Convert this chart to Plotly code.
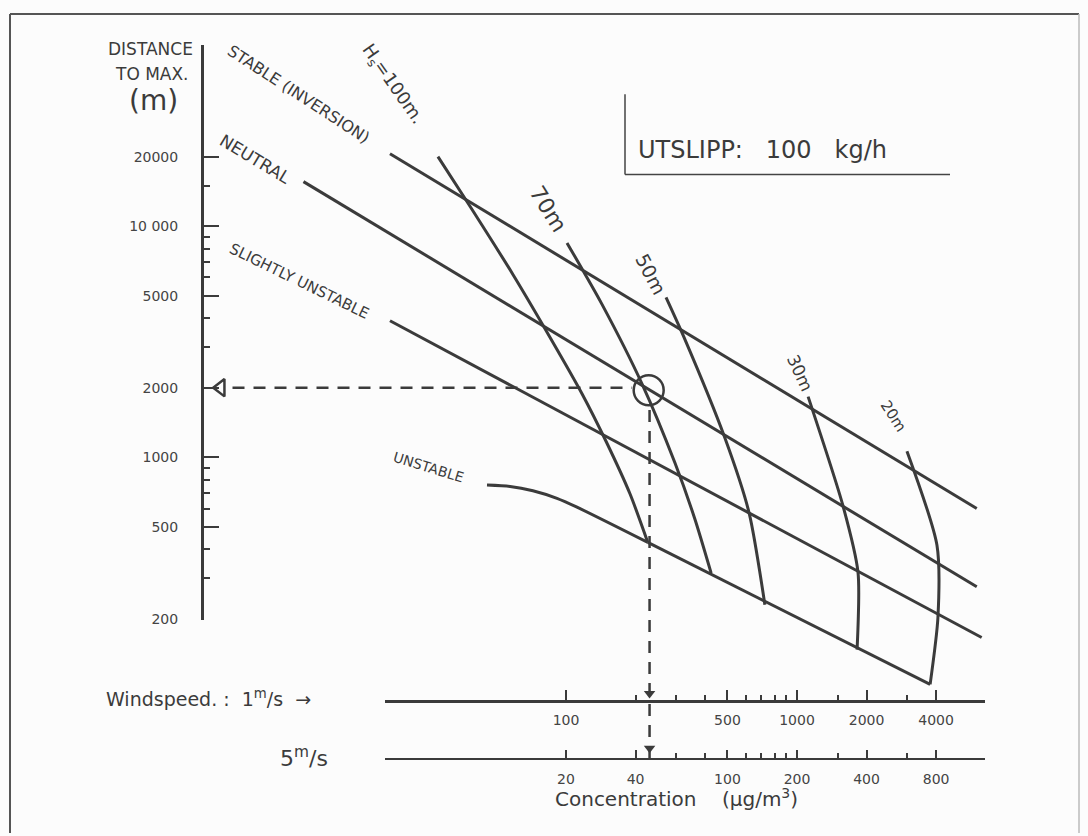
import math
import plotly.graph_objects as go

W, H = 1088, 836

# ---------------- data ----------------
# distance-to-max axis (m)
y_ticks = [200, 500, 1000, 2000, 5000, 10000, 20000]
y_ticktext = ["200", "500", "1000", "2000", "5000", "10 000", "20000"]
y_minor = [300, 400, 600, 700, 800, 900, 3000, 4000, 6000, 7000, 8000, 9000, 15000]

# concentration axes (ug/m3) for windspeed 1 m/s and 5 m/s
c1_ticks = [100, 500, 1000, 2000, 4000]
c1_minor = [200, 300, 400, 600, 700, 800, 900, 1500, 3000]
c5_ticks = [20, 40, 100, 200, 400, 800]
c5_minor = [60, 80, 120, 140, 160, 180, 300, 600]

# stability classes: x = concentration at 1 m/s, y = distance to max (m)
stable_x = [17.3, 6000]
stable_y = [20600, 600]
neutral_x = [7.3, 6000]
neutral_y = [15600, 275]
slunst_x = [17.3, 6300]
slunst_y = [3900, 166]
# unstable: curved start, then straight
unstable_curve_x = [45.5, 57.3, 71.9, 91.4, 111.6, 226]
unstable_curve_y = [759, 748, 716, 664, 608, 428]
unstable_line_x = [226, 3770]
unstable_line_y = [428, 104]

# stack heights Hs
h100_x = [27.9, 38.4, 59.0, 85.2, 117.3, 149.0, 189.2, 226]
h100_y = [20000, 12200, 6170, 3310, 1885, 1173, 695, 428]
h70_x = [101, 143.2, 213.3, 296.4, 361, 425]
h70_y = [8470, 4590, 2080, 944, 542, 315]
h50_x = [271, 324, 488, 620, 726]
h50_y = [4920, 3310, 1208, 576, 230]
h30_x = [1117, 1581, 1837, 1820]
h30_y = [1830, 617, 318, 147]
h20_x = [2992, 4036, 4074, 3770]
h20_y = [1063, 416, 202, 104]

# worked example (dashed reading lines)
ex_circle_x = [228]
ex_circle_y = [1950]
ex_h_x = [3.6, 193]
ex_h_y = [2000, 2000]
ex_v_x = [230, 230]
ex_v_y = [1600, 50]
ex_arrow_y_x = [3.2]
ex_arrow_y_y = [2000]
ex_arrow_x_x = [230, 230]
ex_arrow_x_y = [95, 55]

# ---------------- pixel geometry helpers (layout only) ----------------
X100_PX, XDEC = 566, 231      # pixel of 100 on 1 m/s scale, px per decade
Y20K_PX, YDEC = 158, 233      # pixel of 20000 m, px per decade


def lx(px):
    return 2 + (px - X100_PX) / XDEC


def ly(py):
    return math.log10(20000) - (py - Y20K_PX) / YDEC


def fx(px):
    return px / W


def fy(py):
    return 1 - py / H


INK = "#3b3b3b"
FONT = "DejaVu Sans"

fig = go.Figure()


def line(x, y, spline=False, width=3):
    fig.add_trace(go.Scatter(
        x=x, y=y, mode="lines",
        line=dict(color=INK, width=width, shape="spline" if spline else "linear", smoothing=0.7),
        hoverinfo="skip", showlegend=False))


line(stable_x, stable_y)
line(neutral_x, neutral_y)
line(slunst_x, slunst_y)
line(unstable_curve_x, unstable_curve_y, spline=True)
line(unstable_line_x, unstable_line_y)
line(h100_x, h100_y, spline=True)
line(h70_x, h70_y, spline=True)
line(h50_x, h50_y, spline=True)
line(h30_x, h30_y, spline=True)
line(h20_x, h20_y, spline=True)

# dashed reading lines
for gx, gy in [(ex_h_x, ex_h_y), (ex_v_x, ex_v_y)]:
    fig.add_trace(go.Scatter(x=gx, y=gy, mode="lines",
                             line=dict(color=INK, width=2.5, dash="12px,9px"),
                             hoverinfo="skip", showlegend=False))
fig.add_trace(go.Scatter(x=ex_circle_x, y=ex_circle_y, mode="markers",
                         marker=dict(symbol="circle-open", size=30, color=INK, line=dict(width=2.5)),
                         hoverinfo="skip", showlegend=False))
fig.add_trace(go.Scatter(x=ex_arrow_y_x, y=ex_arrow_y_y, mode="markers",
                         marker=dict(symbol="triangle-left-open", size=15, color=INK, line=dict(width=2.5)),
                         hoverinfo="skip", showlegend=False))
fig.add_trace(go.Scatter(x=ex_arrow_x_x, y=ex_arrow_x_y, mode="markers",
                         marker=dict(symbol="triangle-down", size=10, color=INK),
                         hoverinfo="skip", showlegend=False))

# dummy traces so the extra axes are drawn
fig.add_trace(go.Scatter(x=[None], y=[None], xaxis="x2", yaxis="y", showlegend=False, hoverinfo="skip"))
fig.add_trace(go.Scatter(x=[None], y=[None], xaxis="x3", yaxis="y", showlegend=False, hoverinfo="skip"))
fig.add_trace(go.Scatter(x=[None], y=[None], xaxis="x", yaxis="y2", showlegend=False, hoverinfo="skip"))

axis_common = dict(type="log", showgrid=False, zeroline=False, showline=True,
                   linecolor=INK, linewidth=2.5, ticks="inside", tickcolor=INK,
                   tickwidth=2, fixedrange=True)

PX_L, PX_R, PY_T, PY_B = 150, 1060, 20, 800
fig.update_layout(
    width=W, height=H, margin=dict(l=0, r=0, t=0, b=0),
    paper_bgcolor="#fcfcfc", plot_bgcolor="rgba(0,0,0,0)",
    showlegend=False,
    xaxis=dict(type="log", domain=[fx(PX_L), fx(PX_R)], range=[lx(PX_L), lx(PX_R)],
               visible=False, fixedrange=True),
    yaxis=dict(type="log", domain=[fy(PY_B), fy(PY_T)], range=[ly(PY_B), ly(PY_T)],
               visible=False, fixedrange=True),
    xaxis2=dict(axis_common, domain=[fx(385), fx(985)], range=[lx(385), lx(985)],
                anchor="free", position=fy(707),
                tickvals=c1_ticks, ticktext=[str(v) for v in c1_ticks], ticklen=10,
                ticklabelstandoff=6, tickfont=dict(family=FONT, size=14, color="#444"),
                minor=dict(tickvals=c1_minor, ticks="inside", ticklen=5, tickwidth=2, tickcolor=INK)),
    xaxis3=dict(axis_common, domain=[fx(385), fx(985)],
                range=[lx(385) - math.log10(5), lx(985) - math.log10(5)],
                anchor="free", position=fy(765),
                tickvals=c5_ticks, ticktext=[str(v) for v in c5_ticks], ticklen=8,
                ticklabelstandoff=7, tickfont=dict(family=FONT, size=14, color="#444"),
                minor=dict(tickvals=c5_minor, ticks="inside", ticklen=5, tickwidth=2, tickcolor=INK)),
    yaxis2=dict(axis_common, domain=[fy(625), fy(45)], range=[ly(625), ly(45)],
                anchor="free", position=fx(202), side="left",
                tickvals=y_ticks, ticktext=y_ticktext, ticklen=15, linewidth=3,
                ticklabelstandoff=20, tickfont=dict(family=FONT, size=14, color="#444"),
                minor=dict(tickvals=y_minor, ticks="inside", ticklen=6, tickwidth=2, tickcolor=INK)),
)

ann = []


def text(t, px, py, size, angle=0, xanchor="center", family=FONT, color=INK):
    ann.append(dict(text=t, x=fx(px), y=fy(py), xref="paper", yref="paper",
                    showarrow=False, textangle=angle, xanchor=xanchor, yanchor="middle",
                    font=dict(family=family, size=size, color=color)))


text("DISTANCE", 150, 49, 17)
text("TO MAX.", 152, 75, 17)
text("(m)", 153, 101, 28)

text("STABLE (INVERSION)", 299, 95, 16, angle=33)
text("NEUTRAL", 255, 160, 17, angle=31)
text("SLIGHTLY UNSTABLE", 299, 283, 15, angle=26)
text("UNSTABLE", 428, 471, 14, angle=17)

text("H<sub>s</sub>=100m.", 392, 85, 18, angle=55)
text("70m", 548, 210, 22, angle=58)
text("50m", 651, 276, 19, angle=62)
text("30m", 800, 376, 17, angle=65)
text("20m", 893, 420, 15, angle=57)

text("UTSLIPP:   100   kg/h", 636, 151, 24, xanchor="left")

text("Windspeed. :  1<sup>m</sup>/s  →", 104, 704, 19, xanchor="left")
text("5<sup>m</sup>/s", 278, 763, 22, xanchor="left")
text("Concentration    (µg/m<sup>3</sup>)", 676, 805, 20)

fig.update_layout(annotations=ann)

shapes = [
    # sheet frame
    dict(type="line", xref="paper", yref="paper", x0=fx(10), x1=fx(10), y0=fy(14), y1=fy(840),
         line=dict(color="#555", width=2)),
    dict(type="line", xref="paper", yref="paper", x0=fx(10), x1=fx(1079), y0=fy(14), y1=fy(14),
         line=dict(color="#555", width=2)),
    dict(type="line", xref="paper", yref="paper", x0=fx(1079), x1=fx(1079), y0=fy(14), y1=fy(840),
         line=dict(color="#bbb", width=1.5)),
    # UTSLIPP box
    dict(type="line", xref="paper", yref="paper", x0=fx(625), x1=fx(625), y0=fy(95), y1=fy(176),
         line=dict(color="#444", width=1.5)),
    dict(type="line", xref="paper", yref="paper", x0=fx(625), x1=fx(950), y0=fy(176), y1=fy(176),
         line=dict(color="#444", width=1.5)),
]
fig.update_layout(shapes=shapes)

fig.write_html("out.html", config={"displayModeBar": False, "staticPlot": True})
